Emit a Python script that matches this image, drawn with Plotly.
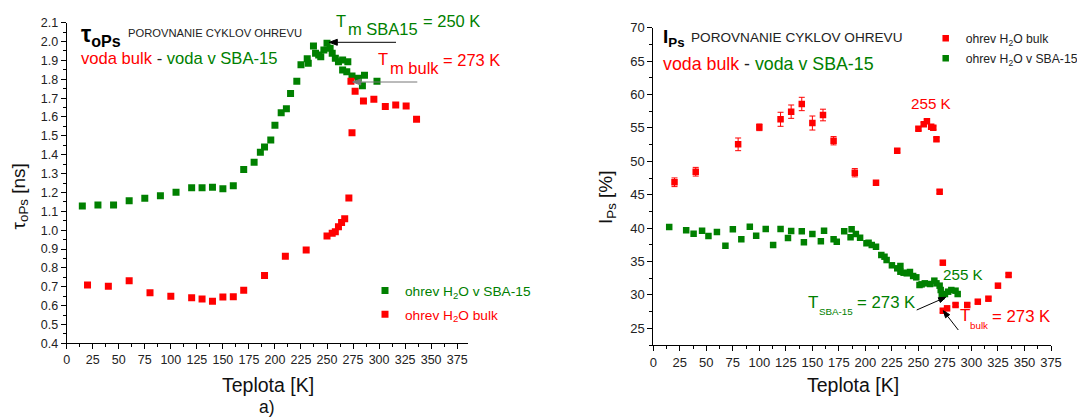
import math
import plotly.graph_objects as go

W, H = 1077, 417
GREEN = "#008000"
RED = "#ff0000"
FONT = "Liberation Sans, Arial, sans-serif"

# ---------------- left panel: tau_oPs [ns] ----------------
tau_sba_T = [15, 30, 45, 60, 75, 90, 105, 120, 130, 140, 150, 160, 170, 180, 186, 190, 196, 200, 206, 211,
             215, 221, 225, 231, 232, 237, 239, 242, 244, 247, 250, 253, 255, 258, 261, 265, 270, 265, 269, 274,
             280, 286, 284, 298]
tau_sba = [1.128, 1.133, 1.133, 1.156, 1.169, 1.183, 1.201, 1.225, 1.225, 1.228, 1.220, 1.235, 1.321, 1.360,
           1.413, 1.441, 1.478, 1.556, 1.623, 1.644, 1.724, 1.789, 1.877, 1.909, 1.885, 1.976, 1.938, 1.929,
           1.920, 1.955, 1.991, 1.964, 1.938, 1.911, 1.893, 1.902, 1.893, 1.849, 1.840, 1.817, 1.805, 1.821,
           1.766, 1.789]
tau_bulk_T = [20, 40, 60, 80, 100, 120, 130, 140, 150, 160, 170, 190, 210, 230, 250, 255, 258, 261, 264, 267,
              271, 274, 273, 277, 285, 295, 306, 316, 326, 336]
tau_bulk = [0.709, 0.702, 0.732, 0.668, 0.649, 0.642, 0.635, 0.623, 0.646, 0.647, 0.681, 0.759, 0.861, 0.895,
            0.969, 0.983, 0.992, 1.018, 1.040, 1.061, 1.171, 1.517, 1.789, 1.736, 1.685, 1.694, 1.655, 1.664,
            1.658, 1.588]

# ---------------- right panel: I_Ps [%] ----------------
ips_bulk_T = [20, 40, 80, 100, 120, 130, 140, 150, 160, 170, 190, 210, 230, 250, 255, 258, 262, 264, 267, 270,
              273, 273, 277, 285, 296, 306, 316, 325, 335]
ips_bulk = [46.86, 48.44, 52.54, 55.09, 56.29, 57.43, 58.58, 55.73, 56.93, 53.08, 48.29, 46.80, 51.59, 54.88,
            55.54, 55.99, 55.18, 55.03, 53.29, 45.45, 34.82, 27.63, 27.99, 28.49, 28.49, 28.98, 29.43, 31.38, 32.98]
ips_bulk_err = [0.65, 0.65, 0.95, 0.5, 1.05, 1.0, 1.0, 1.05, 0.87, 0.62, 0.62, 0.25, 0.25, 0.25, 0.25, 0.25,
                0.25, 0.25, 0.25, 0.25, 0.25, 0.25, 0.25, 0.25, 0.25, 0.25, 0.25, 0.25, 0.25]
ips_sba_T = [15, 31, 38, 46, 52, 60, 68, 75, 83, 91, 97, 106, 113, 120, 127, 130, 140, 142, 150, 158,
             161, 170, 173, 180, 186, 187, 191, 195, 201, 203, 206, 210, 215, 218, 220, 225, 230, 233, 233, 236,
             239, 242, 245, 248, 251, 253, 256, 261, 265, 267, 270, 271, 272, 275, 278, 281, 285, 287]
ips_sba = [40.16, 39.67, 39.16, 39.61, 38.82, 39.42, 37.37, 39.82, 38.32, 40.21, 38.86, 39.87, 37.47, 39.87,
           38.52, 39.57, 39.52, 37.87, 39.12, 38.02, 39.61, 38.32, 37.96, 39.52, 38.62, 39.82, 39.12, 38.56,
           37.72, 37.81, 37.47, 37.22, 35.97, 35.72, 35.22, 34.43, 33.98, 34.33, 33.47, 33.32, 33.23, 33.43,
           32.83, 32.63, 31.48, 31.58, 31.73, 31.63, 32.13, 31.73, 31.38, 30.73, 29.83, 30.13, 30.48, 30.73,
           30.63, 30.13]

x_ticks = list(range(0, 376, 25))


def px(x):
    return x / W


def py(y):
    return 1 - y / H


fig = go.Figure()

fig.add_trace(go.Scatter(x=tau_sba_T, y=tau_sba, mode="markers", xaxis="x", yaxis="y",
                         marker=dict(symbol="square", size=7, color=GREEN), showlegend=True,
                         name=f"<span style='color:{GREEN}'>ohrev H<sub>2</sub>O v SBA-15</span>",
                         legend="legend"))
fig.add_trace(go.Scatter(x=tau_bulk_T, y=tau_bulk, mode="markers", xaxis="x", yaxis="y",
                         marker=dict(symbol="square", size=7, color=RED), showlegend=True,
                         name=f"<span style='color:{RED}'>ohrev H<sub>2</sub>O bulk</span>",
                         legend="legend2"))
fig.add_trace(go.Scatter(x=ips_bulk_T, y=ips_bulk, mode="markers", xaxis="x2", yaxis="y2",
                         marker=dict(symbol="square", size=6.5, color=RED), showlegend=True,
                         error_y=dict(type="data", array=ips_bulk_err, color=RED, thickness=1, width=3),
                         name="ohrev H<sub>2</sub>O bulk", legend="legend3"))
fig.add_trace(go.Scatter(x=ips_sba_T, y=ips_sba, mode="markers", xaxis="x2", yaxis="y2",
                         marker=dict(symbol="square", size=6.5, color=GREEN), showlegend=True,
                         name="ohrev H<sub>2</sub>O v SBA-15", legend="legend4"))

axis_common = dict(showline=True, linecolor="black", linewidth=1, ticks="outside", ticklen=5, tickwidth=1,
                   tickcolor="black", showgrid=False, zeroline=False, automargin=False)


def leg(x, y, size):
    return dict(x=px(x), y=py(y), xanchor="left", yanchor="middle", bgcolor="rgba(0,0,0,0)",
                font=dict(size=size, color="#222"))


fig.update_layout(
    width=W, height=H, margin=dict(l=0, r=0, t=0, b=0, pad=0, autoexpand=False),
    paper_bgcolor="white", plot_bgcolor="white", showlegend=True,
    font=dict(family=FONT, color="#222"),
    xaxis=dict(domain=[px(66.7), px(468.3)], range=[0, 385.7], anchor="y", tickvals=x_ticks,
               minor=dict(ticks="outside", ticklen=3, dtick=12.5, tick0=0, tickcolor="black"),
               tickfont=dict(size=12.5, color="#222"), **axis_common),
    yaxis=dict(domain=[py(343.3), py(22.7)], range=[0.4, 2.1], anchor="x", dtick=0.1, tick0=0.4,
               tickformat=".1f",
               minor=dict(ticks="outside", ticklen=3, dtick=0.05, tick0=0.4, tickcolor="black"),
               tickfont=dict(size=12.5, color="#222"), **axis_common),
    xaxis2=dict(domain=[px(653.3), px(1051)], range=[0, 375], anchor="y2", tickvals=x_ticks,
                minor=dict(ticks="outside", ticklen=3, dtick=12.5, tick0=0, tickcolor="black"),
                tickfont=dict(size=13, color="#222"), **axis_common),
    yaxis2=dict(domain=[py(345), py(27.7)], range=[22.5, 70], anchor="x2", dtick=5, tick0=25,
                minor=dict(ticks="outside", ticklen=3, dtick=2.5, tick0=22.5, tickcolor="black"),
                tickfont=dict(size=13, color="#222"), **axis_common),
    legend=leg(365, 290.7, 13.7),
    legend2=leg(365, 314.3, 13.7),
    legend3=leg(925.7, 38.3, 12.2),
    legend4=leg(925.7, 58.3, 12.2),
)

ann = []
shapes = []


def text(t, x, y, size, color="#111", xanchor="left", angle=0):
    ann.append(dict(text=t, x=px(x), y=py(y), xref="paper", yref="paper", showarrow=False,
                    xanchor=xanchor, yanchor="middle", textangle=angle,
                    font=dict(family=FONT, size=size, color=color)))


def arrow(hx, hy, tx, ty, color="black", head_len=8.0, head_half=3.0):
    dx, dy = hx - tx, hy - ty
    n = math.hypot(dx, dy)
    ux, uy = dx / n, dy / n
    bx, by = hx - ux * head_len, hy - uy * head_len
    nx, ny = -uy, ux
    shapes.append(dict(type="line", xref="paper", yref="paper", x0=px(tx), y0=py(ty), x1=px(bx), y1=py(by),
                       line=dict(color=color, width=1)))
    p1 = (bx + nx * head_half, by + ny * head_half)
    p2 = (bx - nx * head_half, by - ny * head_half)
    path = (f"M {px(hx)} {py(hy)} L {px(p1[0])} {py(p1[1])} "
            f"L {px(p2[0])} {py(p2[1])} Z")
    shapes.append(dict(type="path", xref="paper", yref="paper", path=path,
                       fillcolor=color, line=dict(color=color, width=1)))


# left panel texts
text("<b>τ<sub>oPs</sub></b>", 79, 35, 23, "#000")
text("POROVNANIE CYKLOV OHREVU", 126, 33, 11.2, "#222")
text(f"<span style='color:{RED}'>voda bulk</span> - <span style='color:{GREEN}'>voda v SBA-15</span>",
     79, 58, 16.6, "#222")
text("T", 334, 21, 16.5, GREEN)
text("m SBA15", 346, 28.5, 16.5, GREEN)
text("= 250 K", 421, 21, 16.5, GREEN)
text("T", 376, 59, 16.5, RED)
text("m bulk", 388, 67.5, 16.5, RED)
text("= 273 K", 441, 60, 16.5, RED)
arrow(329.3, 42.3, 396, 42.3, "black")
arrow(352.7, 82, 417.3, 82, "#777777")
text("Teplota [K]", 268, 385, 19.5, "#111", xanchor="center")
text("a)", 266.7, 406.5, 17.5, "#111", xanchor="center")
ann.append(dict(text="τ<sub>oPs</sub> [ns]", x=px(20), y=py(196.5), xref="paper", yref="paper",
                showarrow=False, xanchor="center", yanchor="middle", textangle=-90,
                font=dict(family=FONT, size=19, color="#111")))

# right panel texts
text("<b>I<sub>Ps</sub></b>", 661, 38.3, 19, "#000")
text("POROVNANIE CYKLOV OHREVU", 688.5, 37, 13.6, "#222")
text(f"<span style='color:{RED}'>voda bulk</span> - <span style='color:{GREEN}'>voda v SBA-15</span>",
     661, 64, 17.8, "#222")
text("255 K", 930.8, 103, 15.2, RED, xanchor="center")
text("255 K", 963, 274, 15.2, GREEN, xanchor="center")
text("T", 806, 302.2, 17, GREEN)
text("SBA-15", 816.5, 311, 9.8, GREEN)
text("= 273 K", 854.5, 302.7, 16.8, GREEN)
text("T", 957.5, 315.5, 17, RED)
text("bulk", 968, 325, 9.8, RED)
text("= 273 K", 990, 316, 16.8, RED)
arrow(945.7, 297.3, 916.7, 310, "black", 7.0, 2.6)
arrow(943.3, 310.7, 958.3, 330, "black", 7.0, 2.6)
text("Teplota [K]", 852.5, 385, 19.5, "#111", xanchor="center")
ann.append(dict(text="I<sub>Ps</sub> [%]", x=px(607), y=py(197), xref="paper", yref="paper",
                showarrow=False, xanchor="center", yanchor="middle", textangle=-90,
                font=dict(family=FONT, size=19, color="#111")))

fig.update_layout(annotations=ann, shapes=shapes)
fig.write_html("out.html")
